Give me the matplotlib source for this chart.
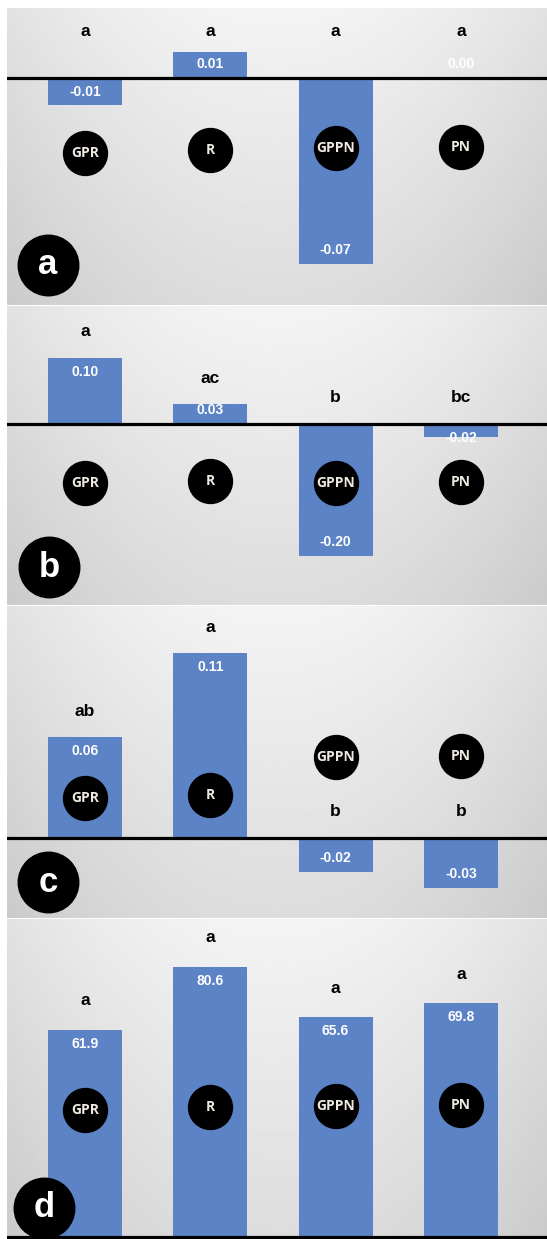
import numpy as np
import matplotlib
matplotlib.use("Agg")
import matplotlib.pyplot as plt

# data
categories = ["GPR", "R", "GPPN", "PN"]
vals_a = [-0.01, 0.01, -0.07, 0.00]
vals_b = [0.10, 0.03, -0.20, -0.02]
vals_c = [0.06, 0.11, -0.02, -0.03]
vals_d = [61.9, 80.6, 65.6, 69.8]
letters_a = ["a", "a", "a", "a"]
letters_b = ["a", "ac", "b", "bc"]
letters_c = ["ab", "a", "b", "b"]
letters_d = ["a", "a", "a", "a"]
panel_tags = ["a", "b", "c", "d"]

BLUE = "#5b83c6"
W, H = 547, 1239
PX2PT = 72 / 100

fig = plt.figure(figsize=(W / 100, H / 100), dpi=100)
fig.patch.set_facecolor("white")


def background(ax):
    # soft grey gradient, light at the top centre
    xx, yy = np.meshgrid(np.linspace(-1, 1, 200), np.linspace(0, 1, 120))
    g = 0.955 - 0.09 * (1 - yy) - 0.07 * xx ** 2
    ax.imshow(g, extent=[0, 1, 0, 1], transform=ax.transAxes, cmap="gray",
              vmin=0, vmax=1, aspect="auto", zorder=0, origin="lower",
              interpolation="bilinear")


def panel(top, bottom, base, ppu, vals, letters, tag, circ_y, tag_xy, fmt,
          letter_anchor=None, letter_off=26):
    ax = fig.add_axes([7 / W, (H - bottom) / H, 540 / W, (bottom - top) / H])
    background(ax)
    x = np.arange(len(categories))
    ax.bar(x, vals, width=0.59, color=BLUE, zorder=2)
    ax.axhline(0, color="black", lw=2.3, zorder=3)
    ax.set_xlim((7 - 85) / 125.3, (547 - 85) / 125.3)
    ax.set_ylim(-(bottom - base) / ppu, (base - top) / ppu)
    ax.set_axis_off()

    for i, v in enumerate(vals):
        s = 1 if v >= 0 else -1
        d = max(abs(v) * ppu - 14, 14)
        ax.annotate(fmt.format(v), (i, 0), xytext=(0, s * d * PX2PT),
                    textcoords="offset points", ha="center", va="center",
                    color="white", fontsize=10, fontweight="bold",
                    family="Liberation Sans", zorder=5)
        anchor = max(v, 0) if letter_anchor is None else letter_anchor
        ax.annotate(letters[i], (i, anchor), xytext=(0, letter_off * PX2PT),
                    textcoords="offset points", ha="center", va="center",
                    color="black", fontsize=12.5, fontweight="bold",
                    family="Liberation Sans", zorder=5)

    tr = ax.get_xaxis_transform()
    for i, (name, cy) in enumerate(zip(categories, circ_y)):
        ax.scatter([i], [cy], s=1000, color="black", transform=tr, zorder=4)
        ax.text(i, cy, name, transform=tr, ha="center", va="center",
                color="#eeeae2", fontsize=10, fontweight="bold",
                family="Open Sans", zorder=6)

    ax.scatter([tag_xy[0]], [tag_xy[1]], s=1900, color="black", transform=tr,
               zorder=6, clip_on=False)
    ax.text(tag_xy[0], tag_xy[1], tag, transform=tr, ha="center", va="center",
            color="white", fontsize=25, fontweight="bold",
            family="Liberation Sans", zorder=7)
    return ax


panel(8, 305, 78, 2650, vals_a, letters_a, panel_tags[0],
      [0.512, 0.522, 0.529, 0.532], (-0.295, 0.135), "{:.2f}",
      letter_anchor=max(vals_a), letter_off=20)
panel(306, 605, 424, 660, vals_b, letters_b, panel_tags[1],
      [0.408, 0.415, 0.408, 0.411], (-0.287, 0.127), "{:.2f}")
panel(606, 918, 838, 1680, vals_c, letters_c, panel_tags[2],
      [0.385, 0.394, 0.516, 0.519], (-0.295, 0.115), "{:.2f}")
panel(919, 1239, 1237, 3.35, vals_d, letters_d, panel_tags[3],
      [0.403, 0.412, 0.416, 0.419], (-0.327, 0.097), "{:.1f}", letter_off=29)

fig.savefig("out.png", dpi=100, facecolor=fig.get_facecolor())
